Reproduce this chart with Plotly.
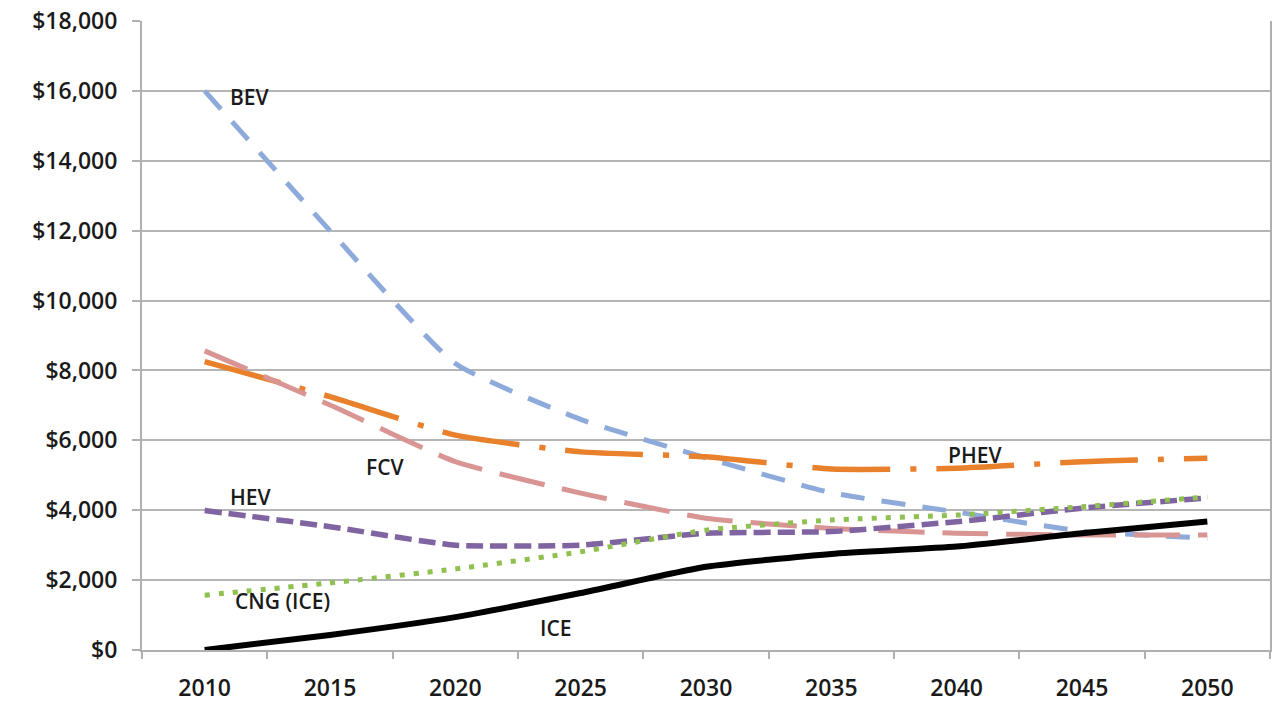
import plotly.graph_objects as go

years = ["2010", "2015", "2020", "2025", "2030", "2035", "2040", "2045", "2050"]
bev  = [16000, 12000, 8200, 6600, 5500, 4500, 3950, 3400, 3200]
phev = [8250, 7250, 6150, 5670, 5530, 5180, 5200, 5390, 5490]
fcv  = [8560, 7010, 5390, 4490, 3770, 3480, 3340, 3290, 3290]
hev  = [3990, 3530, 3000, 3000, 3340, 3390, 3670, 4060, 4350]
cng  = [1570, 1920, 2320, 2810, 3430, 3720, 3860, 4100, 4380]
ice  = [0, 430, 940, 1630, 2380, 2750, 2960, 3340, 3680]

y_ticks = [0, 2000, 4000, 6000, 8000, 10000, 12000, 14000, 16000, 18000]
y_tick_text = ["$" + f"{v:,}" for v in y_ticks]

series = [
    ("BEV", bev, "#8eaadb", "24px,17px", 5),
    ("PHEV", phev, "#e8802c", "78px,20px,6px,20px", 5.5),
    ("FCV", fcv, "#d99593", "46px,18px", 5),
    ("HEV", hev, "#8064a2", "17px,7px", 5.5),
    ("CNG (ICE)", cng, "#8fc050", "5px,9px", 5),
    ("ICE", ice, "#000000", "solid", 6),
]

fig = go.Figure()
for name, vals, color, dash, w in series:
    fig.add_trace(go.Scatter(
        x=years, y=vals, mode="lines", name=name,
        line=dict(color=color, dash=dash, width=w, shape="spline", smoothing=0.5),
        hoverinfo="x+y+name",
    ))

labels = [
    ("BEV", 0.36, 15830),
    ("FCV", 1.44, 5240),
    ("HEV", 0.37, 4380),
    ("CNG (ICE)", 0.62, 1400),
    ("ICE", 2.80, 630),
    ("PHEV", 6.15, 5580),
]
for txt, xv, yv in labels:
    fig.add_annotation(x=xv, y=yv, xref="x", yref="y", text=txt, showarrow=False,
                       font=dict(family="Open Sans", size=21, color="#1a1a1a", weight=600))

fig.update_layout(
    width=1287, height=703,
    margin=dict(l=142, r=17, t=21, b=53),
    paper_bgcolor="white", plot_bgcolor="white",
    showlegend=False,
    font=dict(family="Open Sans", size=22, color="#1a1a1a"),
)
fig.update_xaxes(
    type="category", tickson="boundaries", range=[-0.5, 8.5], automargin=False,
    ticks="outside", ticklen=7, tickcolor="#b0b0b0", tickwidth=2,
    showline=True, linecolor="#b0b0b0", linewidth=2,
    showgrid=False, tickfont=dict(size=23, family="Open Sans", color="#1a1a1a", weight=600),
    ticklabelstandoff=16,
)
fig.update_yaxes(
    range=[0, 18000], tickvals=y_ticks, ticktext=y_tick_text, automargin=False,
    ticks="outside", ticklen=8, tickcolor="#b0b0b0", tickwidth=2,
    showline=True, linecolor="#b0b0b0", linewidth=2, mirror=True,
    showgrid=True, gridcolor="#b5b5b5", gridwidth=2, zeroline=False,
    tickfont=dict(size=23, family="Open Sans", color="#1a1a1a", weight=600),
    ticklabelstandoff=10,
)

fig.write_html("out.html", config={"displayModeBar": False},
               post_script="document.body.style.margin='0';")
